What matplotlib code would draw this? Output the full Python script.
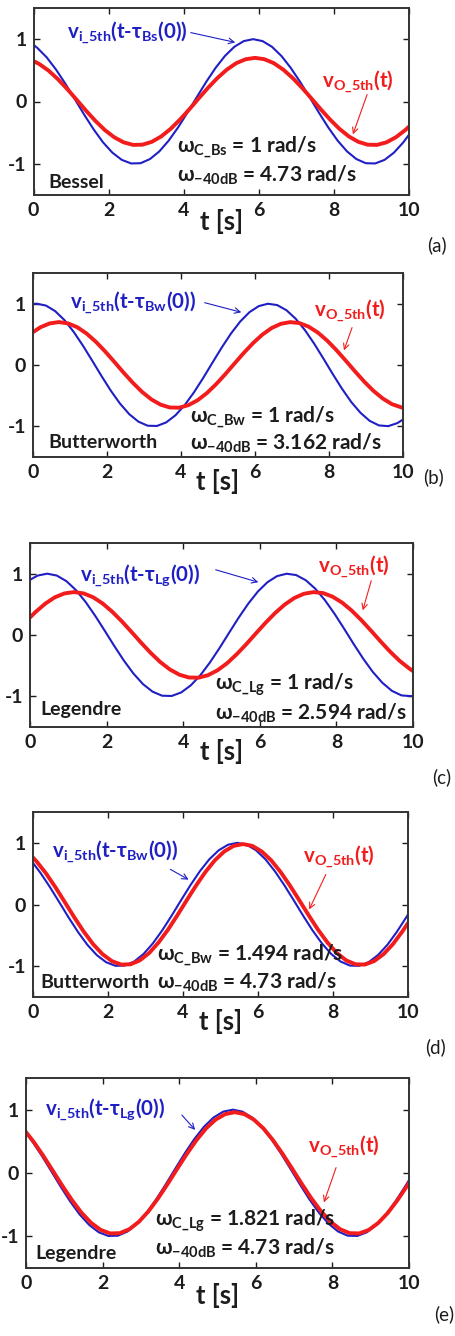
import matplotlib.pyplot as plt

plt.rcParams['font.family'] = ['Lato', 'DejaVu Sans']
plt.rcParams['font.weight'] = 'bold'
plt.rcParams['axes.unicode_minus'] = False
plt.rcParams['mathtext.fontset'] = 'custom'
plt.rcParams['mathtext.rm'] = 'Lato:bold'
plt.rcParams['mathtext.bf'] = 'Lato:bold'
plt.rcParams['mathtext.it'] = 'Lato:bold'
plt.rcParams['mathtext.default'] = 'bf'

W, H = 455, 1336

# time samples [s], three grids shifted against each other
t_010 = [0, 0.1, 0.35, 0.6, 0.85, 1.1, 1.35, 1.6, 1.85, 2.1, 2.35, 2.6, 2.85, 3.1, 3.35,
         3.6, 3.85, 4.1, 4.35, 4.6, 4.85, 5.1, 5.35, 5.6, 5.85, 6.1, 6.35, 6.6, 6.85, 7.1,
         7.35, 7.6, 7.85, 8.1, 8.35, 8.6, 8.85, 9.1, 9.35, 9.6, 9.85, 10]
t_015 = [0, 0.15, 0.4, 0.65, 0.9, 1.15, 1.4, 1.65, 1.9, 2.15, 2.4, 2.65, 2.9, 3.15, 3.4,
         3.65, 3.9, 4.15, 4.4, 4.65, 4.9, 5.15, 5.4, 5.65, 5.9, 6.15, 6.4, 6.65, 6.9, 7.15,
         7.4, 7.65, 7.9, 8.15, 8.4, 8.65, 8.9, 9.15, 9.4, 9.65, 9.9, 10]
t_020 = [0, 0.2, 0.45, 0.7, 0.95, 1.2, 1.45, 1.7, 1.95, 2.2, 2.45, 2.7, 2.95, 3.2, 3.45,
         3.7, 3.95, 4.2, 4.45, 4.7, 4.95, 5.2, 5.45, 5.7, 5.95, 6.2, 6.45, 6.7, 6.95, 7.2,
         7.45, 7.7, 7.95, 8.2, 8.45, 8.7, 8.95, 9.2, 9.45, 9.7, 9.95, 10]

# (a) Bessel
vi_a = [0.908, 0.861, 0.709, 0.512, 0.284, 0.038, -0.211, -0.446, -0.654, -0.820, -0.936,
        -0.994, -0.990, -0.924, -0.801, -0.628, -0.416, -0.178, 0.071, 0.315, 0.540, 0.732,
        0.878, 0.969, 1.000, 0.969, 0.878, 0.732, 0.540, 0.315, 0.071, -0.178, -0.416,
        -0.628, -0.801, -0.924, -0.990, -0.994, -0.936, -0.820, -0.654, -0.533]
vo_a = [0.649, 0.603, 0.496, 0.358, 0.199, 0.027, -0.148, -0.312, -0.458, -0.574, -0.655,
        -0.696, -0.693, -0.647, -0.561, -0.440, -0.291, -0.125, 0.050, 0.221, 0.378, 0.512,
        0.615, 0.678, 0.700, 0.678, 0.615, 0.512, 0.378, 0.221, 0.050, -0.125, -0.291,
        -0.440, -0.561, -0.647, -0.693, -0.696, -0.655, -0.574, -0.458, -0.403]
# (b) Butterworth
vi_b = [0.995, 1.000, 0.969, 0.878, 0.732, 0.540, 0.315, 0.071, -0.178, -0.416, -0.628,
        -0.801, -0.924, -0.990, -0.994, -0.936, -0.820, -0.654, -0.446, -0.211, 0.038, 0.284,
        0.512, 0.709, 0.861, 0.960, 0.999, 0.977, 0.893, 0.754, 0.568, 0.347, 0.104, -0.146,
        -0.386, -0.602, -0.779, -0.911, -0.985, -0.997, -0.947, -0.889]
vo_b = [0.535, 0.615, 0.678, 0.700, 0.678, 0.615, 0.512, 0.378, 0.221, 0.050, -0.125,
        -0.291, -0.440, -0.561, -0.647, -0.693, -0.696, -0.655, -0.574, -0.458, -0.312,
        -0.148, 0.027, 0.199, 0.358, 0.496, 0.603, 0.672, 0.699, 0.684, 0.625, 0.528, 0.398,
        0.243, 0.073, -0.102, -0.270, -0.421, -0.545, -0.638, -0.690, -0.695]
# (c) Legendre
vi_c = [0.900, 0.969, 1.000, 0.969, 0.878, 0.732, 0.540, 0.315, 0.071, -0.178, -0.416,
        -0.628, -0.801, -0.924, -0.990, -0.994, -0.936, -0.820, -0.654, -0.446, -0.211, 0.038,
        0.284, 0.512, 0.709, 0.861, 0.960, 0.999, 0.977, 0.893, 0.754, 0.568, 0.347, 0.104,
        -0.146, -0.386, -0.602, -0.779, -0.911, -0.985, -0.997, -0.992]
vo_c = [0.286, 0.378, 0.512, 0.615, 0.678, 0.700, 0.678, 0.615, 0.512, 0.378, 0.221, 0.050,
        -0.125, -0.291, -0.440, -0.561, -0.647, -0.693, -0.696, -0.655, -0.574, -0.458,
        -0.312, -0.148, 0.027, 0.199, 0.358, 0.496, 0.603, 0.672, 0.699, 0.684, 0.625, 0.528,
        0.398, 0.243, 0.073, -0.102, -0.270, -0.421, -0.545, -0.588]
# (d) Butterworth, wc = 1.494
vi_d = [0.673, 0.512, 0.284, 0.038, -0.211, -0.446, -0.654, -0.820, -0.936, -0.994, -0.990,
        -0.924, -0.801, -0.628, -0.416, -0.178, 0.071, 0.315, 0.540, 0.732, 0.878, 0.969,
        1.000, 0.969, 0.878, 0.732, 0.540, 0.315, 0.071, -0.178, -0.416, -0.628, -0.801,
        -0.924, -0.990, -0.994, -0.936, -0.820, -0.654, -0.446, -0.211, -0.162]
vo_d = [0.761, 0.695, 0.502, 0.278, 0.037, -0.207, -0.437, -0.641, -0.804, -0.917, -0.974,
        -0.970, -0.906, -0.785, -0.615, -0.408, -0.174, 0.070, 0.309, 0.529, 0.717, 0.860,
        0.950, 0.980, 0.950, 0.860, 0.717, 0.529, 0.309, 0.070, -0.174, -0.408, -0.615,
        -0.785, -0.906, -0.970, -0.974, -0.917, -0.804, -0.641, -0.437, -0.301]
# (e) Legendre, wc = 1.821
vi_e = [0.635, 0.512, 0.284, 0.038, -0.211, -0.446, -0.654, -0.820, -0.936, -0.994, -0.990,
        -0.924, -0.801, -0.628, -0.416, -0.178, 0.071, 0.315, 0.540, 0.732, 0.878, 0.969,
        1.000, 0.969, 0.878, 0.732, 0.540, 0.315, 0.071, -0.178, -0.416, -0.628, -0.801,
        -0.924, -0.990, -0.994, -0.936, -0.820, -0.654, -0.446, -0.211, -0.112]
vo_e = [0.646, 0.492, 0.273, 0.036, -0.203, -0.428, -0.628, -0.787, -0.899, -0.954, -0.950,
        -0.887, -0.769, -0.603, -0.399, -0.171, 0.068, 0.302, 0.518, 0.703, 0.843, 0.930,
        0.960, 0.930, 0.843, 0.703, 0.518, 0.302, 0.068, -0.171, -0.399, -0.603, -0.769,
        -0.887, -0.950, -0.954, -0.899, -0.787, -0.628, -0.428, -0.203, -0.156]

t_in = [t_010, t_010, t_020, t_020, t_015]
t_out = [t_015, t_020, t_015, t_010, t_020]
v_in = [vi_a, vi_b, vi_c, vi_d, vi_e]
v_out = [vo_a, vo_b, vo_c, vo_d, vo_e]

filters = ['Bessel', 'Butterworth', 'Legendre', 'Butterworth', 'Legendre']
subs = ['Bs', 'Bw', 'Lg', 'Bw', 'Lg']
wc_vals = ['1', '1', '1', '1.494', '1.821']
w40_vals = ['4.73', '3.162', '2.594', '4.73', '4.73']
tags = ['(a)', '(b)', '(c)', '(d)', '(e)']

# layout in pixels: axes box (left, top, right, bottom)
boxes = [(33.5, 8, 409, 195), (33, 273, 403, 457), (30, 543, 413, 727),
         (33, 812, 408, 997), (26, 1078, 409, 1268)]
blue_lab = [(67, 33), (70, 303), (80, 575), (52, 852), (45, 1109)]
blue_arr = [(188, 32, 238, 43), (202, 302, 244, 313), (213, 569, 261, 583),
            (168, 868, 191, 881), (180, 1113, 197, 1132)]
red_lab = [(322, 82), (314, 311), (318, 567), (303, 857), (308, 1147)]
red_arr = [(368, 92, 352, 137), (353, 325, 343, 353), (372, 578, 362, 613),
           (327, 872, 308, 912), (337, 1165, 323, 1205)]
omega_pos = [(177, 147, 175), (190, 417, 443), (215, 685, 713),
             (157, 955, 982), (155, 1221, 1248)]
name_pos = [(48, 182), (48, 443), (40, 710), (40, 983), (35, 1253)]
xlab_y = [222, 482, 752, 1022, 1296]
tag_pos = [(437, 245), (433, 477), (442, 777), (435, 1047), (444, 1314)]

BLUE = '#1f1fc4'
RED = '#f21c1c'
DARK = '#1c1c1c'


def fx(x):
    return x / W


def fy(y):
    return 1 - y / H


fig = plt.figure(figsize=(W / 100, H / 100), dpi=100)

for i in range(5):
    l, t, r, b = boxes[i]
    ax = fig.add_axes([fx(l), fy(b), (r - l) / W, (b - t) / H])
    ax.plot(t_in[i], v_in[i], color=BLUE, lw=1.5)
    ax.plot(t_out[i], v_out[i], color=RED, lw=2.8)
    ax.set_xlim(0, 10)
    ax.set_ylim(-1.5, 1.5)
    ax.set_xticks([0, 2, 4, 6, 8, 10])
    ax.set_yticks([-1, 0, 1])
    ax.tick_params(direction='in', top=True, right=True, length=4, width=1,
                   labelsize=14, pad=5, colors=DARK)
    for s in ax.spines.values():
        s.set_linewidth(1.4)
        s.set_color('#333333')

    fig.text(fx((l + r) / 2), fy(xlab_y[i]), 't [s]', fontsize=18.5, ha='center',
             va='center', color=DARK)

    x, y = blue_lab[i]
    fig.text(fx(x), fy(y), r'$v_{i\_5th}$(t-$\tau_{%s}$(0))' % subs[i], fontsize=14.8,
             color=BLUE, ha='left', va='center')
    x0, y0, x1, y1 = blue_arr[i]
    ax.annotate('', xy=(fx(x1), fy(y1)), xytext=(fx(x0), fy(y0)),
                xycoords='figure fraction', textcoords='figure fraction',
                arrowprops=dict(arrowstyle='->', color=BLUE, lw=0.8))

    x, y = red_lab[i]
    fig.text(fx(x), fy(y), r'$v_{O\_5th}$(t)', fontsize=14.8, color=RED,
             ha='left', va='center')
    x0, y0, x1, y1 = red_arr[i]
    ax.annotate('', xy=(fx(x1), fy(y1)), xytext=(fx(x0), fy(y0)),
                xycoords='figure fraction', textcoords='figure fraction',
                arrowprops=dict(arrowstyle='->', color=RED, lw=0.8))

    x, y1, y2 = omega_pos[i]
    fig.text(fx(x), fy(y1), r'$\omega_{C\_%s}$ = %s rad/s' % (subs[i], wc_vals[i]),
             fontsize=15, color=DARK, ha='left', va='center')
    fig.text(fx(x), fy(y2), r'$\omega_{-40dB}$ = %s rad/s' % w40_vals[i],
             fontsize=15, color=DARK, ha='left', va='center')

    x, y = name_pos[i]
    fig.text(fx(x), fy(y), filters[i], fontsize=14, color=DARK, ha='left', va='center')

    x, y = tag_pos[i]
    fig.text(fx(x), fy(y), tags[i], fontsize=13.5, fontweight='normal', color=DARK,
             ha='center', va='center')

fig.savefig('out.png', dpi=100)
